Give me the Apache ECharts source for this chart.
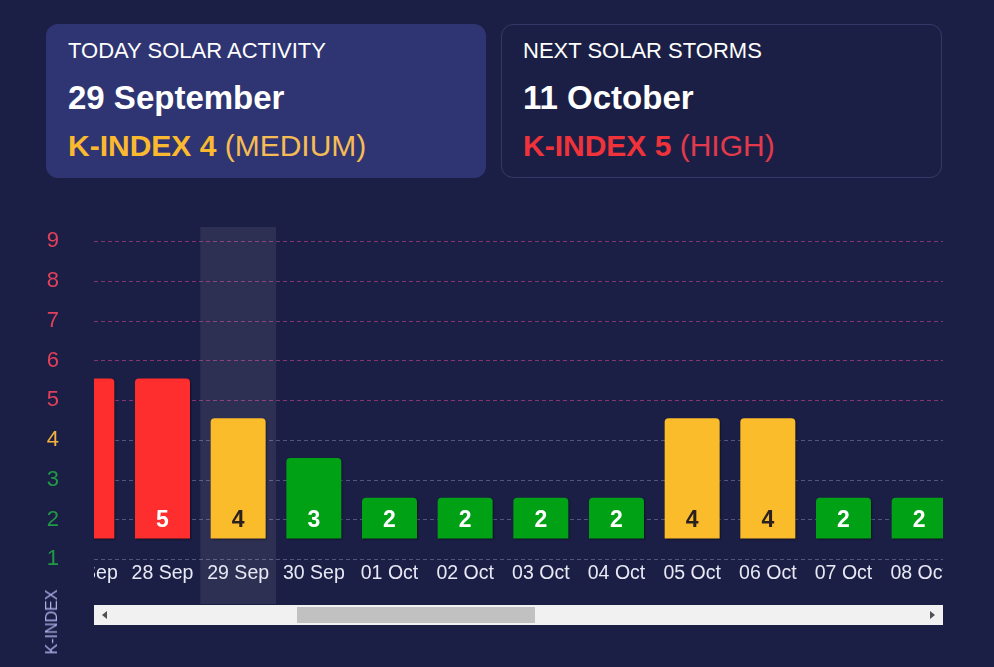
<!DOCTYPE html>
<html>
<head>
<meta charset="utf-8">
<script src="https://cdn.jsdelivr.net/npm/echarts@6/dist/echarts.min.js"></script>
<style>
  html, body { margin:0; padding:0; background:#1c1f45; width:994px; height:667px; overflow:hidden; font-family:"Liberation Sans", Arial, sans-serif; }
  .card { position:absolute; top:24px; height:154px; width:440px; border-radius:12px; box-sizing:border-box; }
  #card1 { left:46px; background:#2f3572; }
  #card2 { left:501px; width:441px; border:1px solid rgba(110,115,190,0.3); }
  .t { position:absolute; white-space:nowrap; line-height:1; }
  .h { font-size:22px; color:#ffffff; }
  .d { font-size:33px; font-weight:bold; color:#ffffff; }
  .k { font-size:30px; }
  .k b { font-weight:bold; }
  #base { position:absolute; left:0; top:0; width:994px; height:667px; }
  #view { position:absolute; left:94px; top:200px; width:849px; height:405px; overflow:hidden; }
  #bars { position:absolute; left:-45px; top:0; width:908px; height:405px; }
  #track { position:absolute; left:94px; top:605px; width:849px; height:20px; background:#f1f1f1; }
  #thumb { position:absolute; left:297px; top:607px; width:238px; height:16px; background:#c1c1c1; }
  #al { position:absolute; left:102px; top:611px; width:0; height:0; border-top:4.5px solid transparent; border-bottom:4.5px solid transparent; border-right:5px solid #505050; }
  #ar { position:absolute; left:930px; top:611px; width:0; height:0; border-top:4.5px solid transparent; border-bottom:4.5px solid transparent; border-left:5px solid #505050; }
  #kname { position:absolute; left:52px; top:622px; transform:translate(-50%,-50%) rotate(-90deg); font-size:16px; color:#a9aee6; white-space:nowrap; line-height:1; }
</style>
</head>
<body>
<div class="card" id="card1">
  <div class="t h" style="left:22px; top:15.7px;">TODAY SOLAR ACTIVITY</div>
  <div class="t d" style="left:22px; top:57.4px;">29 September</div>
  <div class="t k" style="left:22px; top:107.3px; color:#f5bc55;"><b style="color:#fbb92f;">K-INDEX 4</b> (MEDIUM)</div>
</div>
<div class="card" id="card2">
  <div class="t h" style="left:21px; top:14.7px;">NEXT SOLAR STORMS</div>
  <div class="t d" style="left:21px; top:56.4px;">11 October</div>
  <div class="t k" style="left:21px; top:106.3px; color:#e23a4c;"><b style="color:#f0333a;">K-INDEX 5</b> (HIGH)</div>
</div>
<div id="base"></div>
<div id="view"><div id="bars"></div></div>
<div id="track"></div>
<div id="thumb"></div>
<div id="al"></div>
<div id="ar"></div>
<div id="kname">K-INDEX</div>
<script>
// ---- data ----
const categories = ['27 Sep','28 Sep','29 Sep','30 Sep','01 Oct','02 Oct','03 Oct','04 Oct','05 Oct','06 Oct','07 Oct','08 Oct'];
const kIndex = [5, 5, 4, 3, 2, 2, 2, 2, 4, 4, 2, 2];
const yTickLabels = ['1','2','3','4','5','6','7','8','9'];
const today = '29 Sep';

// ---- styling helpers ----
function barColor(v){ return v >= 5 ? '#ff2e2e' : (v === 4 ? '#fbbc2c' : '#01a116'); }
function labelColor(v){ return v >= 5 ? '#e2405a' : (v === 4 ? '#f2b33d' : '#1f9a45'); }
function gridColor(v){ return v >= 5 ? 'rgba(200,70,140,0.6)' : 'rgba(200,200,225,0.33)'; }
const FONT = '"Liberation Sans", Arial, sans-serif';

// ---- base chart: y-axis labels + grid lines ----
const base = echarts.init(document.getElementById('base'), null, {renderer:'canvas'});
base.setOption({
  animation:false,
  grid:{left:94, right:51, top:201.55, bottom:67.95},
  xAxis:{type:'value', min:0, max:1, show:false},
  yAxis:{
    type:'value', min:0, max:10, interval:1,
    axisLine:{show:false}, axisTick:{show:false}, splitLine:{show:false},
    axisLabel:{
      margin:35, fontSize:22, fontFamily:FONT,
      formatter:function(v){ return (v>=1 && v<=yTickLabels.length) ? yTickLabels[v-1] : ''; },
      color:function(v){ return labelColor(Number(v)); }
    }
  },
  series:[{
    type:'line', data:[[0,0],[1,0]], symbol:'none', lineStyle:{opacity:0}, silent:true,
    markLine:{
      silent:true, symbol:'none', animation:false,
      label:{show:false},
      data: yTickLabels.map(function(t){ const v = Number(t); return {yAxis:v, lineStyle:{color:gridColor(v), type:[4,3], width:1}}; })
    }
  }]
});

// ---- scrolling bar chart ----
const barsChart = echarts.init(document.getElementById('bars'), null, {renderer:'canvas'});
const BASE_LEVEL = 1.52, CAP = 0.55;
barsChart.setOption({
  animation:false,
  grid:{left:0, right:0, top:27, bottom:1},
  xAxis:{
    type:'category', data:categories,
    axisLine:{show:false}, axisTick:{show:false},
    axisLabel:{inside:true, margin:20, color:'#e8e9f4', fontSize:19.5, fontFamily:FONT, interval:0},
    axisPointer:{show:true, type:'shadow', value:categories.indexOf(today), status:'show', triggerTooltip:false, triggerOn:'none',
      z:0, label:{show:false}, shadowStyle:{color:'rgba(255,255,255,0.08)'}}
  },
  yAxis:{type:'value', min:-0.125, max:9.36, show:false},
  series:[
    {type:'bar', stack:'k', barWidth:55, silent:true, z:3,
     itemStyle:{color:'rgba(0,0,0,0)'},
     data: kIndex.map(function(){ return BASE_LEVEL; })},
    {type:'bar', stack:'k', barWidth:55, z:3,
     data: kIndex.map(function(v){ return {value: v + CAP - BASE_LEVEL, itemStyle:{color:barColor(v)}, label:{color: v === 4 ? '#2a2020' : '#ffffff'}}; }),
     itemStyle:{borderRadius:[4,4,0,0], shadowColor:'rgba(0,0,0,0.45)', shadowBlur:2, shadowOffsetX:1, shadowOffsetY:1},
     label:{show:true, position:'insideBottom', distance:6, fontSize:23, fontWeight:'bold', fontFamily:FONT,
       formatter:function(p){ return String(kIndex[p.dataIndex]); }, color:'#ffffff'}
    }
  ]
});
</script>
</body>
</html>
